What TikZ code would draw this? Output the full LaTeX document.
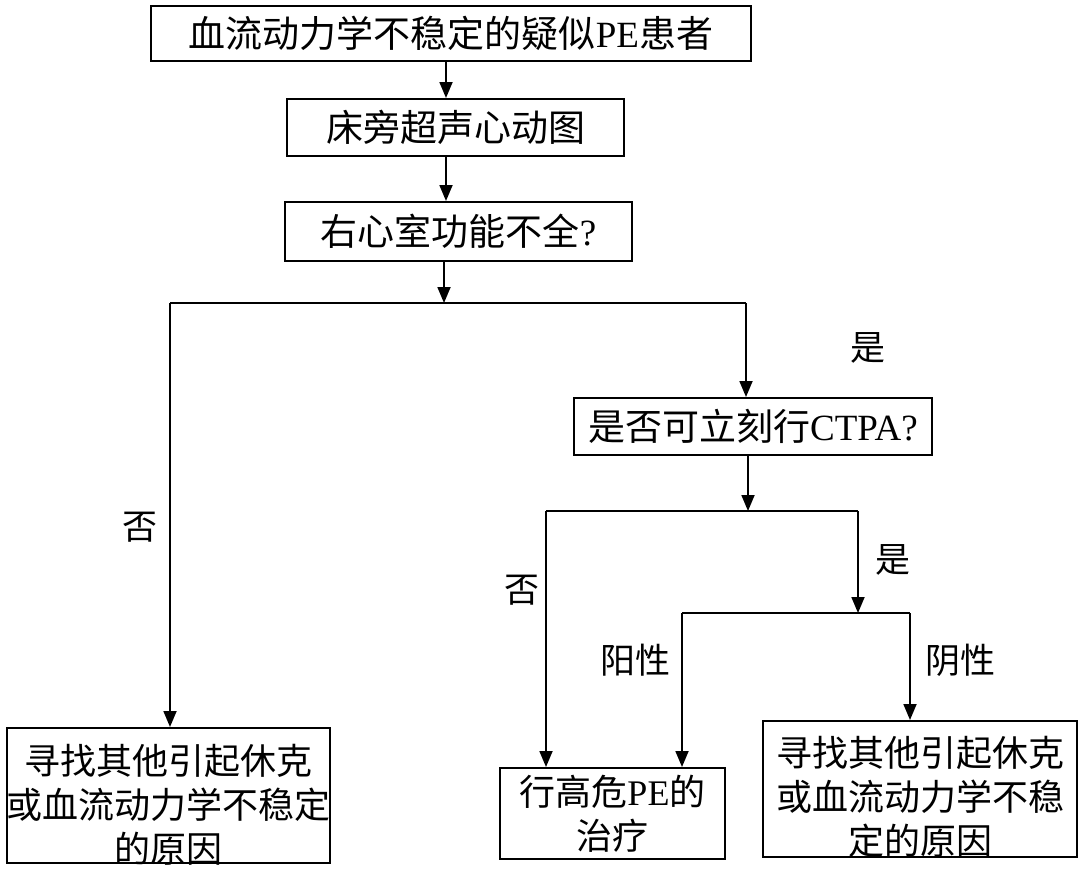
\documentclass[tikz,border=0pt]{standalone}
\usepackage{fontspec}
\setmainfont{Noto Sans CJK SC}
\newfontfamily\lat{Liberation Serif}
\usetikzlibrary{arrows.meta}
\begin{document}
\begin{tikzpicture}[x=1pt,y=-1pt,
  box/.style={draw, line width=2pt, inner sep=0pt, align=center, font=\fontsize{36}{44}\selectfont},
  boxtext/.style={inner sep=0pt, align=center, font=\fontsize{36}{44}\selectfont},
  conn/.style={line width=1.8pt},
  arr/.style={conn, -{Triangle[length=16pt,width=13pt]}},
  lbl/.style={font=\fontsize{35}{40}\selectfont, inner sep=0pt}]
\useasboundingbox[fill=white] (0,0) rectangle (1080,895);
% boxes
\node[box, minimum width=600, minimum height=55, font=\fontsize{37}{44}\selectfont] (b1) at (451,33.5) {血流动力学不稳定的疑似{\lat PE}患者};
\node[box, minimum width=337, minimum height=57, font=\fontsize{37}{44}\selectfont] (b2) at (455.5,127.5) {床旁超声心动图};
\node[box, minimum width=347, minimum height=59, font=\fontsize{37}{44}\selectfont] (b3) at (458.5,231.5) {右心室功能不全{\lat ?}};
\node[box, minimum width=358, minimum height=57, font=\fontsize{37}{44}\selectfont] (b4) at (753,426.5) {是否可立刻行{\lat CTPA?}};
\node[box, minimum width=323, minimum height=135] (lb) at (168.5,795.5) {};
\node[boxtext, yshift=-9pt] (lbt) at (lb.center) {寻找其他引起休克\\或血流动力学不稳定\\的原因};
\node[box, minimum width=225, minimum height=91] (mb) at (612.5,813.5) {行高危{\lat PE}的\\治疗};
\node[box, minimum width=314, minimum height=136] (rb) at (920,789) {};
\node[boxtext, yshift=-8pt] (rbt) at (rb.center) {寻找其他引起休克\\或血流动力学不稳\\定的原因};
% junction coordinates
\coordinate (a1) at (446,0);
\coordinate (j1) at (444,303);
\coordinate (l1) at (170,303);
\coordinate (r1) at (746,303);
\coordinate (j2) at (748,511);
\coordinate (l2) at (546,511);
\coordinate (r2) at (858,511);
\coordinate (j3) at (858,613);
\coordinate (l3) at (682,613);
\coordinate (r3) at (910,613);
% connectors
\draw[arr] (b1.south -| a1) -- (b2.north -| a1);
\draw[arr] (b2.south -| a1) -- (b3.north -| a1);
\draw[arr] (b3.south -| j1) -- (j1);
\draw[conn] (l1) -- (r1);
\draw[arr] (l1) -- (lb.north -| l1);
\draw[arr] (r1) -- (b4.north -| r1);
\draw[arr] (b4.south -| j2) -- (j2);
\draw[conn] (l2) -- (r2);
\draw[arr] (l2) -- (mb.north -| l2);
\draw[arr] (r2) -- (j3);
\draw[conn] (l3) -- (r3);
\draw[arr] (l3) -- (mb.north -| l3);
\draw[arr] (r3) -- (rb.north -| r3);
% labels
\node[lbl] (n1) at (140,527) {否};
\node[lbl] (y1) at (868,348) {是};
\node[lbl] (n2) at (522,590) {否};
\node[lbl] (y2) at (893,560) {是};
\node[lbl] (p1) at (635,660) {阳性};
\node[lbl] (p2) at (960,660) {阴性};
\end{tikzpicture}
\end{document}
